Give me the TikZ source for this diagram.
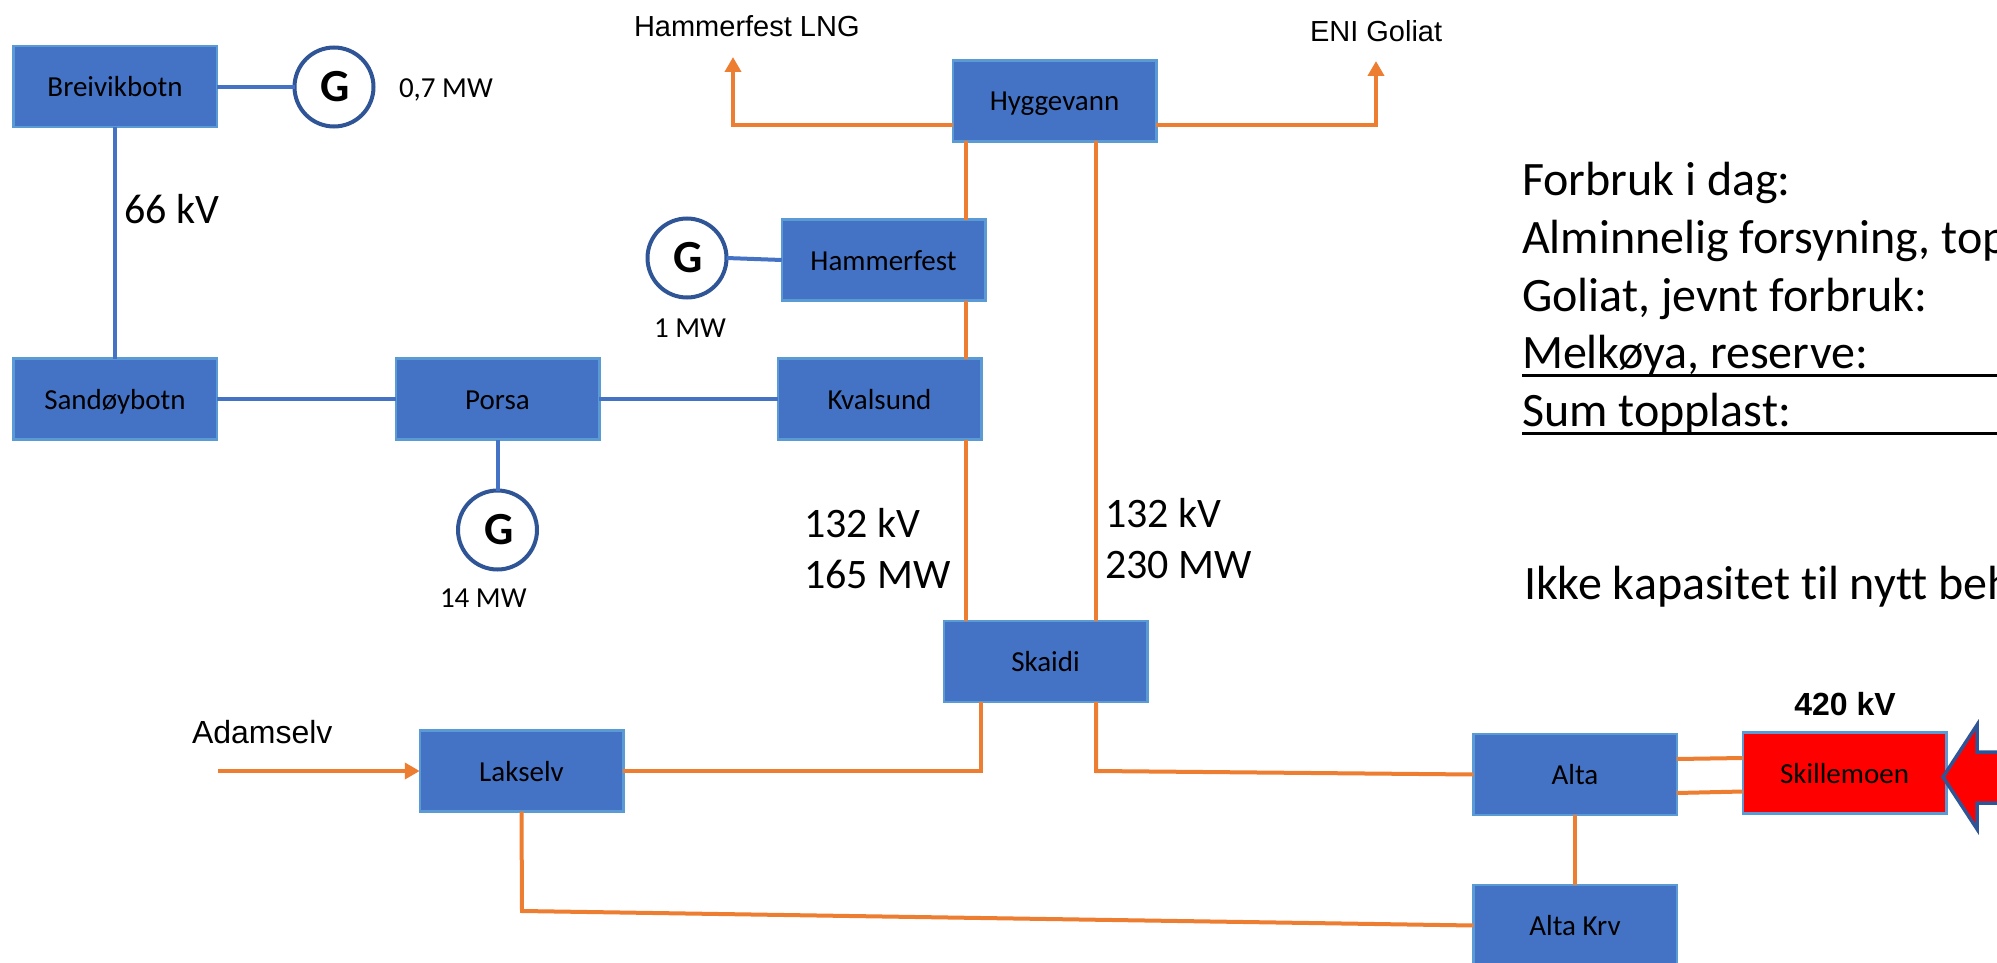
\documentclass[tikz,border=0pt]{standalone}
\usepackage{fontspec}
\setmainfont[Ligatures=NoCommon]{Carlito}
\newfontfamily\arialf{Liberation Sans}
\usetikzlibrary{arrows.meta}
\definecolor{boxfill}{HTML}{4472C4}
\definecolor{boxedge}{HTML}{5B9BD5}
\definecolor{gridorange}{HTML}{ED7D31}
\definecolor{genedge}{HTML}{2F5597}
\tikzset{
  x=1pt,y=-1pt,
  station/.style={draw=boxedge,fill=boxfill,line width=2.5pt,minimum width=203.5pt,minimum height=81pt,inner sep=0pt,outer sep=0pt,
    font=\fontsize{29}{34}\selectfont,text height=25pt,text depth=5pt,text=black},
  redstation/.style={station,fill=red},
  gen/.style={circle,draw=genedge,fill=white,line width=4pt,minimum size=79pt,inner sep=0pt,outer sep=0pt,font=\fontsize{46}{50}\bfseries\selectfont,text=black},
  lab/.style={anchor=base west,inner sep=0pt,outer sep=0pt,text=black},
  small/.style={lab,font=\fontsize{29}{34}\selectfont},
  big/.style={lab,font=\fontsize{42}{50}\selectfont},
  huge/.style={lab,font=\fontsize{48}{56}\selectfont},
  arial/.style={lab,font=\fontsize{29}{34}\arialf\selectfont},
  blueline/.style={draw=boxfill,line width=4pt},
  orangeline/.style={draw=gridorange,line width=4pt},
  feed/.style={orangeline,-{Triangle[length=15pt,width=16pt,fill=gridorange]}},
  rule/.style={draw=black,line width=3pt}
}
\begin{document}
\begin{tikzpicture}
\useasboundingbox (0,0) rectangle (1997,963);
\clip (0,0) rectangle (1997,963);
% stations
\node[station] (bre) at (115,86.5) {Breivikbotn};
\node[station] (san) at (115,399) {Sandøybotn};
\node[station] (por) at (497.5,399) {Porsa};
\node[station] (kva) at (879.5,399) {Kvalsund};
\node[station] (ham) at (883.5,260) {Hammerfest};
\node[station] (hyg) at (1054.5,101) {Hyggevann};
\node[station] (ska) at (1045.5,661.5) {Skaidi};
\node[station] (lak) at (521.5,771) {Lakselv};
\node[station] (alt) at (1575,774.5) {Alta};
\node[station] (krv) at (1575,925.5) {Alta Krv};
\node[redstation] (ski) at (1844.5,773) {Skillemoen};
% generators
\node[gen] (g1) at (334,87) {\kern3pt G};
\node[gen] (g2) at (687,258) {\kern3pt G};
\node[gen] (g3) at (497.5,530) {\kern3pt G};
% free ends
\coordinate (lng) at (733,57);
\coordinate (lngc) at (733,125);
\coordinate (eni) at (1376,61);
\coordinate (enic) at (1376,125);
\coordinate (ada) at (218,771);
\coordinate (skaL) at (981,771);
\coordinate (skaR) at (1096,771);
\coordinate (lakB) at (522,911);
% blue connectors
\draw[blueline] (bre.south) -- (san.north);
\draw[blueline] (bre.east |- g1) -- (g1.west);
\draw[blueline] (san.east) -- (por.west);
\draw[blueline] (por.east) -- (kva.west);
\draw[blueline] (por.south) -- (g3.north);
\draw[blueline] (g2.east) -- (ham.west);
% orange connectors
\draw[feed] (hyg.west |- lngc) -- (lngc) -- (lng);
\draw[feed] (hyg.east |- enic) -- (enic) -- (eni);
\draw[orangeline] ([xshift=13.25pt]hyg.south west) -- ([xshift=-19.25pt]ham.north east);
\draw[orangeline] ([xshift=-19.25pt]ham.south east) -- ([xshift=-15.25pt]kva.north east);
\draw[orangeline] ([xshift=-15.25pt]kva.south east) -- ([xshift=22.25pt]ska.north west);
\draw[orangeline] ([xshift=143.25pt]hyg.south west) -- ([xshift=152.25pt]ska.north west);
\draw[orangeline,line join=miter] (lak.east) -- (skaL) -- ([xshift=37.25pt]ska.south west);
\draw[orangeline,line join=miter] ([xshift=152.25pt]ska.south west) -- (skaR) -- (alt.west);
\draw[feed] (ada) -- (lak.west);
\draw[orangeline,line join=miter] (lak.south) -- (lakB) -- (krv.west);
\draw[orangeline] (alt.south) -- (krv.north);
\draw[orangeline] ([yshift=15.5pt]alt.east) -- ([yshift=15pt]ski.west);
\draw[orangeline] ([yshift=-18.5pt]alt.east) -- ([yshift=-18.5pt]ski.west);
% big arrow
\draw[draw=genedge,fill=red,line width=3.5pt,line join=miter] (1943,777) -- (1977,725) -- (1977,752) -- (2020,752) -- (2020,803) -- (1977,803) -- (1977,829) -- cycle;
% labels
\node[small] (l07) at (399,98) {0,7 MW};
\node[small] (l1) at (654,337) {1 MW};
\node[small] (l14) at (440,607) {14 MW};
\node[big] (l66) at (124,223) {66 kV};
\node[big] (la1) at (804,537) {132 kV};
\node[big] (la2) at (804,588) {165 MW};
\node[big] (lb1) at (1105,527) {132 kV};
\node[big] (lb2) at (1105,578) {230 MW};
\node[arial] (llng) at (634,37) {Hammerfest LNG};
\node[arial] (leni) at (1310,42) {ENI Goliat};
\node[lab,font=\fontsize{32}{38}\arialf\selectfont] (lada) at (192,743) {Adamselv};
\node[lab,anchor=base,font=\fontsize{32}{38}\arialf\bfseries\selectfont] (l420) at (1845,715) {420 kV};
% text block
\node[huge] (t1) at (1522,195) {Forbruk i dag:};
\node[huge] (t2) at (1522,253) {Alminnelig forsyning, topp};
\node[huge] (t3) at (1522,311) {Goliat, jevnt forbruk:};
\node[huge] (t4) at (1522,368) {Melkøya, reserve:};
\node[huge] (t5) at (1522,426) {Sum topplast:};
\node[huge] (t6) at (1524,599) {Ikke kapasitet til nytt beh};
\coordinate (r4) at (1997,375);
\coordinate (r5) at (1997,433);
\draw[rule] (t4.west |- r4) -- (r4);
\draw[rule] (t5.west |- r5) -- (r5);
\end{tikzpicture}
\end{document}
